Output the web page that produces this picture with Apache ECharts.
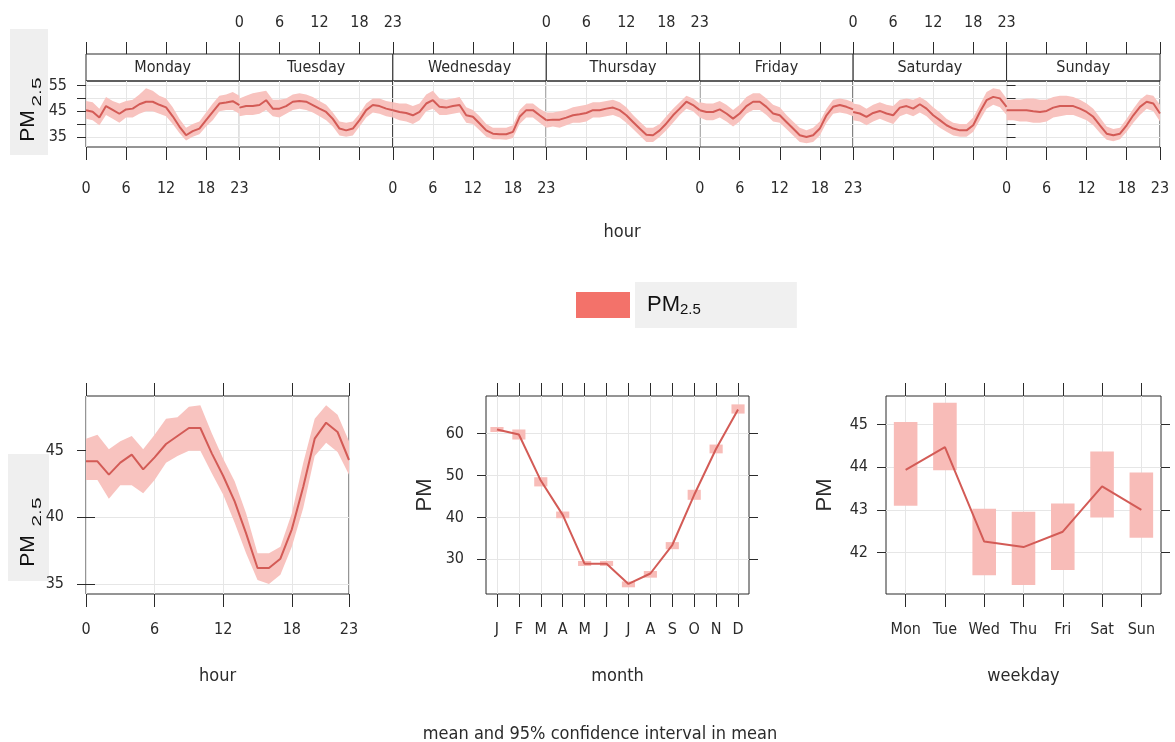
<!DOCTYPE html>
<html lang="en">
<head>
<meta charset="UTF-8">
<title>PM2.5 time variation</title>
<script src="https://cdn.jsdelivr.net/npm/echarts@6/dist/echarts.min.js"></script>
<style>
  html, body { margin: 0; padding: 0; background: #fff; }
  #chart { width: 1175px; height: 742px; }
</style>
</head>
<body>
<div id="chart"></div>
<script>
// ---- data ----
var hours = [0, 1, 2, 3, 4, 5, 6, 7, 8, 9, 10, 11, 12, 13, 14, 15, 16, 17, 18, 19, 20, 21, 22, 23];
var hourTicks = [0, 6, 12, 18, 23];
var days = ['Monday', 'Tuesday', 'Wednesday', 'Thursday', 'Friday', 'Saturday', 'Sunday'];

var dayMean = [
  [45.4, 44.8, 42.5, 47, 45.5, 44, 45.7, 46, 47.7, 48.7, 48.7, 47.5, 46.5, 43, 39, 35.6, 37.2, 38.2, 41.5, 44.7, 48, 48.4, 48.9, 47.4],
  [46.4, 47, 47, 47.4, 49.3, 46, 46, 47, 48.7, 49, 48.7, 47.4, 46, 44.7, 42, 38.2, 37.5, 38.2, 41.5, 45.4, 47.4, 47, 46, 45.4],
  [45.4, 44.7, 44.3, 43.4, 44.7, 48, 49.3, 46.7, 46.4, 47, 47.4, 43.4, 42.8, 40.2, 37.5, 36.2, 36, 36, 36.9, 42.8, 45.4, 45.4, 43.4, 41.5],
  [41.5, 41.7, 41.7, 42.5, 43.4, 43.8, 44.3, 45.4, 45.4, 46, 46.4, 45.4, 43.4, 40.8, 38.2, 35.8, 35.6, 37.5, 40.2, 43.4, 46, 48.7, 47.4, 45.4],
  [45.4, 44.7, 44.7, 45.7, 44.1, 42.1, 44.1, 47, 48.7, 48.7, 46.7, 44.1, 43.4, 40.8, 38.2, 35.6, 34.9, 35.6, 38.2, 43.4, 46.7, 47.4, 46.7, 45.7],
  [44.7, 44.1, 42.8, 44.3, 45.1, 44.1, 43.4, 46.4, 47, 46, 47.7, 46, 43.4, 41.5, 39.5, 38.2, 37.5, 37.5, 39.5, 44.7, 49.3, 50.6, 50, 46.7],
  [45.4, 45.4, 45.4, 45.4, 45, 44.7, 45.1, 46.4, 47, 47, 47, 46, 44.7, 42.8, 39.5, 36.2, 35.6, 36.2, 39.5, 43.4, 46.7, 48.7, 48, 44.1]
];
var dayHigh = [
  [49, 48.5, 46, 50.5, 49, 48, 49, 49.5, 51.5, 54, 53, 51, 50, 46.5, 42, 38.5, 40, 41, 44.5, 48, 51, 51.5, 52.5, 51],
  [50, 51, 52, 52.5, 53, 49.5, 49.5, 50, 51.5, 52, 51.5, 50.5, 49, 47.5, 44.5, 41, 40.5, 41, 44, 48, 50, 50, 49, 48.5],
  [48.5, 48, 48, 47, 48, 51.5, 53, 50, 49.5, 50, 50.5, 46.5, 45.5, 43, 40, 38.5, 38.5, 38.5, 39.5, 45.5, 48, 48, 46, 44.5],
  [44.5, 44.5, 45, 45.5, 46.5, 47, 47.5, 48.5, 48.5, 49, 49.5, 48.5, 46.5, 43.5, 41, 38.5, 38.5, 40, 43, 46, 48.5, 51, 50, 48],
  [48.5, 48, 48, 49, 47.5, 45.5, 47.5, 50.5, 52, 52, 50, 47.5, 46.5, 43.5, 41, 38.5, 37.5, 38.5, 41, 46, 49.5, 50, 49.5, 48.5],
  [48, 47.5, 46, 47.5, 48.5, 47.5, 47, 49.5, 50, 49.5, 50.5, 49, 46.5, 44.5, 42, 40.5, 40, 40, 42.5, 47.5, 52.5, 54, 53.5, 50],
  [49.5, 49.5, 49.5, 50, 50, 49.5, 49.5, 50.5, 51, 51, 50.5, 49.5, 48, 46, 42.5, 39, 38, 38.5, 42, 46, 49.5, 51.5, 51, 47.5]
];
var dayLow = [
  [42, 41.5, 39.5, 43.5, 42, 40.5, 42.5, 42.5, 44, 45, 45, 44, 43, 40, 36.5, 33.5, 35, 36, 39, 41.5, 45, 45.5, 45.5, 44],
  [43, 43.5, 43.5, 44, 45.5, 43, 42.5, 44, 45.5, 46, 45.5, 44.5, 43, 41.5, 39, 35.5, 35, 35.5, 39, 42.5, 44.5, 44, 43, 42.5],
  [42.5, 41.5, 41, 40, 41.5, 45, 46, 43.5, 43.5, 44, 44.5, 40.5, 40, 37.5, 35, 34, 34, 33.8, 34.5, 40, 42.5, 42.5, 40.5, 38.5],
  [38.5, 39, 38.5, 39.5, 40.5, 40.5, 41, 42.5, 42.5, 43, 43.5, 42.5, 40.5, 38, 35.5, 33, 33, 35, 37.5, 40.5, 43.5, 46, 45, 42.5],
  [42.5, 41.5, 41.5, 42.5, 41, 39, 41, 44, 45.5, 45.5, 43.5, 41, 40.5, 38, 35.5, 33, 32.5, 33, 35.5, 40.5, 44, 44.5, 44, 43],
  [41.5, 41, 39.5, 41, 42, 41, 40, 43, 44, 43, 44.5, 43, 40.5, 38.5, 37, 35.5, 35, 35, 37, 41.5, 46, 47.5, 46.5, 43.5],
  [41.5, 41.5, 41, 41, 40.5, 40.5, 41, 42.5, 43, 43.5, 43.5, 42.5, 41.5, 39.5, 36.5, 33.8, 33.2, 34, 37, 40.5, 43.5, 46, 45, 41]
];
var dayYTicks = [35, 40, 45, 50, 55];
var dayYLabels = [35, 45, 55];

var hourMean = [44.2, 44.2, 43.2, 44.1, 44.7, 43.6, 44.5, 45.5, 46.1, 46.7, 46.7, 44.8, 43.1, 41.2, 38.8, 36.2, 36.2, 36.9, 39.1, 42.3, 45.9, 47.1, 46.4, 44.3];
var hourHigh = [45.9, 46.2, 45.1, 45.7, 46.1, 45.1, 46.2, 47.4, 47.5, 48.3, 48.4, 46.3, 44.4, 42.7, 40.3, 37.3, 37.3, 37.8, 40.3, 44.1, 47.4, 48.4, 47.7, 45.7];
var hourLow = [42.8, 42.8, 41.4, 42.4, 42.4, 41.8, 42.8, 44.1, 44.6, 45.0, 45.0, 43.3, 41.7, 39.6, 37.3, 35.3, 35.0, 35.7, 37.8, 40.7, 44.6, 45.6, 44.9, 43.2];
var hourYTicks = [35, 40, 45];

var months = ['J', 'F', 'M', 'A', 'M', 'J', 'J', 'A', 'S', 'O', 'N', 'D'];
var monthMean = [61.0, 59.8, 48.8, 40.6, 28.9, 28.9, 24.1, 26.6, 33.4, 45.4, 56.4, 65.8];
var monthLow = [60.4, 58.6, 47.4, 39.8, 28.4, 28.4, 23.3, 25.6, 32.4, 44.2, 55.3, 64.8];
var monthHigh = [61.6, 61.0, 49.6, 41.4, 29.6, 29.6, 24.7, 27.2, 34.1, 46.6, 57.4, 67.0];
var monthYTicks = [30, 40, 50, 60];

var weekdays = ['Mon', 'Tue', 'Wed', 'Thu', 'Fri', 'Sat', 'Sun'];
var weekMean = [43.94, 44.47, 42.26, 42.13, 42.49, 43.55, 43.0];
var weekLow = [43.1, 43.93, 41.47, 41.24, 41.59, 42.82, 42.35];
var weekHigh = [45.06, 45.51, 43.03, 42.96, 43.15, 44.37, 43.88];
var weekYTicks = [42, 43, 44, 45];

// ---- styles ----
var narrow = "'DejaVu Sans Condensed','Liberation Sans Narrow',sans-serif";
var sans = "'Liberation Sans',Arial,sans-serif";
var ink = '#2b2b2b';
var lineColor = '#d35b56';
var bandColor = '#f8c3bf';
var boxColor = '#f8bcb8';
var gridLine = '#e6e6e6';
var tickFont = 16;

var grids = [], xAxes = [], yAxes = [], series = [], titles = [];

function tickStyle(len, custom) {
  return { show: true, inside: false, length: len, customValues: custom, lineStyle: { color: ink, width: 1 } };
}
function labelStyle(show, margin, custom) {
  return { show: show, margin: margin, customValues: custom, color: ink, fontFamily: narrow, fontSize: tickFont };
}
function pairs(xs, ys) {
  return xs.map(function (x, i) { return [x, ys[i]]; });
}
// confidence band drawn as one polygon through the axis scales
function bandRender(xs, lo, hi) {
  return function (params, api) {
    if (params.dataIndex !== 0) return null;
    var pts = [];
    for (var k = 0; k < xs.length; k++) pts.push(api.coord([xs[k], hi[k]]));
    for (var j = xs.length - 1; j >= 0; j--) pts.push(api.coord([xs[j], lo[j]]));
    return { type: 'polygon', shape: { points: pts }, style: { fill: bandColor } };
  };
}
function addBand(xi, yi, xs, lo, hi, mean) {
  series.push({
    type: 'custom', xAxisIndex: xi, yAxisIndex: yi, renderItem: bandRender(xs, lo, hi),
    encode: { x: 0, y: [1, 2] }, silent: true,
    data: xs.map(function (x, i) { return [x, lo[i], hi[i]]; })
  });
  series.push({
    type: 'line', xAxisIndex: xi, yAxisIndex: yi, data: pairs(xs, mean),
    symbol: 'none', lineStyle: { color: lineColor, width: 2 }, silent: true
  });
}

// ---- top panel: hour by day of week ----
var topL = 86, topR = 1160, stripTop = 54, dataTop = 81, dataH = 66;
var panelW = (topR - topL) / days.length;

days.forEach(function (d, i) {
  var x0 = topL + i * panelW;
  // strip
  grids.push({ left: x0, top: stripTop, width: panelW, height: dataTop - stripTop, show: true,
    borderColor: ink, borderWidth: 1, backgroundColor: '#fff', outerBoundsMode: 'none' });
  var sg = grids.length - 1;
  xAxes.push({ gridIndex: sg, type: 'value', show: false });
  yAxes.push({ gridIndex: sg, type: 'value', show: false });
  titles.push({ text: d, left: x0 + panelW / 2, top: 60, textAlign: 'center', padding: 0,
    textStyle: { fontFamily: narrow, fontSize: 16, fontWeight: 'normal', color: ink } });

  // data area
  grids.push({ left: x0, top: dataTop, width: panelW, height: dataH, show: true,
    borderColor: ink, borderWidth: 1, outerBoundsMode: 'none' });
  var g = grids.length - 1;
  xAxes.push({ gridIndex: g, type: 'value', min: 0, max: 23, position: 'bottom',
    axisLine: { show: false }, axisTick: tickStyle(13, hourTicks),
    axisLabel: labelStyle(i % 2 === 0, 34, hourTicks),
    splitLine: { show: true, lineStyle: { color: gridLine } } });
  var xb = xAxes.length - 1;
  xAxes.push({ gridIndex: g, type: 'value', min: 0, max: 23, position: 'top', offset: dataTop - stripTop,
    axisLine: { show: false }, axisTick: tickStyle(12, hourTicks),
    axisLabel: labelStyle(i % 2 === 1, 23, hourTicks), splitLine: { show: false } });
  yAxes.push({ gridIndex: g, type: 'value', min: 31, max: 56.8, position: 'left',
    axisLine: { show: false }, axisTick: i === 0 ? tickStyle(9, dayYTicks) : { show: false, customValues: dayYTicks },
    axisLabel: labelStyle(i === 0, 19, dayYLabels),
    splitLine: { show: true, lineStyle: { color: gridLine } } });
  var yl = yAxes.length - 1;
  if (i === days.length - 1) {
    yAxes.push({ gridIndex: g, type: 'value', min: 31, max: 56.8, position: 'right',
      axisLine: { show: false }, axisTick: tickStyle(9, dayYTicks),
      axisLabel: { show: false }, splitLine: { show: false } });
  }
  addBand(xb, yl, hours, dayLow[i], dayHigh[i], dayMean[i]);
});

titles.push({ text: 'hour', left: 622, top: 223, textAlign: 'center', padding: 0,
  textStyle: { fontFamily: narrow, fontSize: 18, fontWeight: 'normal', color: ink } });

// ---- bottom panels ----
var botTop = 396, botH = 198;
function addFrame(left, width) {
  grids.push({ left: left, top: botTop, width: width, height: botH, show: true,
    borderColor: ink, borderWidth: 1, outerBoundsMode: 'none' });
  return grids.length - 1;
}
var nameStyle = { fontFamily: narrow, fontSize: 18, color: ink };
var pmName = { fontFamily: sans, fontSize: 22, color: ink };

// hour
var gH = addFrame(86, 263);
xAxes.push({ gridIndex: gH, type: 'value', min: 0, max: 23, axisLine: { show: false },
  axisTick: tickStyle(13, hourTicks), axisLabel: labelStyle(true, 28, hourTicks),
  splitLine: { show: true, lineStyle: { color: gridLine } },
  name: 'hour', nameLocation: 'middle', nameGap: 73, nameTextStyle: nameStyle });
var xH = xAxes.length - 1;
xAxes.push({ gridIndex: gH, type: 'value', min: 0, max: 23, position: 'top', axisLine: { show: false },
  axisTick: tickStyle(13, hourTicks), axisLabel: { show: false }, splitLine: { show: false } });
yAxes.push({ gridIndex: gH, type: 'value', min: 34.25, max: 49.1, axisLine: { show: false },
  axisTick: tickStyle(9, hourYTicks), axisLabel: labelStyle(true, 22, hourYTicks),
  splitLine: { show: true, lineStyle: { color: gridLine } } });
var yH = yAxes.length - 1;
yAxes.push({ gridIndex: gH, type: 'value', min: 34.25, max: 49.1, position: 'right', axisLine: { show: false },
  axisTick: tickStyle(9, hourYTicks), axisLabel: { show: false }, splitLine: { show: false } });
addBand(xH, yH, hours, hourLow, hourHigh, hourMean);

function boxRender(params, api) {
  var c = api.value(0);
  var top = api.coord([c, api.value(2)]);
  var bot = api.coord([c, api.value(1)]);
  var w = api.size([1, 0])[0] * 0.6;
  return { type: 'rect', shape: { x: top[0] - w / 2, y: top[1], width: w, height: bot[1] - top[1] },
    style: { fill: boxColor } };
}
function addCategoryPanel(left, width, cats, mean, lo, hi, yMin, yMax, yTicks, xName, yMargin) {
  var g = addFrame(left, width);
  xAxes.push({ gridIndex: g, type: 'category', data: cats, boundaryGap: true, axisLine: { show: false },
    axisTick: { show: true, inside: false, length: 13, alignWithLabel: true, lineStyle: { color: ink } },
    axisLabel: { show: true, margin: 28, interval: 0, color: ink, fontFamily: narrow, fontSize: tickFont },
    splitLine: { show: true, alignWithLabel: true, interval: 0, lineStyle: { color: gridLine } },
    name: xName, nameLocation: 'middle', nameGap: 73, nameTextStyle: nameStyle });
  var xi = xAxes.length - 1;
  xAxes.push({ gridIndex: g, type: 'category', data: cats, boundaryGap: true, position: 'top', axisLine: { show: false },
    axisTick: { show: true, inside: false, length: 13, alignWithLabel: true, interval: 0, lineStyle: { color: ink } },
    axisLabel: { show: false }, splitLine: { show: false } });
  yAxes.push({ gridIndex: g, type: 'value', min: yMin, max: yMax, axisLine: { show: false },
    axisTick: tickStyle(9, yTicks), axisLabel: labelStyle(true, yMargin, yTicks),
    splitLine: { show: true, lineStyle: { color: gridLine } },
    name: 'PM', nameLocation: 'middle', nameGap: 50, nameTextStyle: pmName });
  var yi = yAxes.length - 1;
  yAxes.push({ gridIndex: g, type: 'value', min: yMin, max: yMax, position: 'right', axisLine: { show: false },
    axisTick: tickStyle(9, yTicks), axisLabel: { show: false }, splitLine: { show: false } });
  series.push({
    name: 'PM2.5', type: 'custom', xAxisIndex: xi, yAxisIndex: yi, renderItem: boxRender,
    itemStyle: { color: boxColor }, encode: { x: 0, y: [1, 2] }, silent: true,
    data: cats.map(function (c, i) { return [i, lo[i], hi[i]]; })
  });
  series.push({
    type: 'line', xAxisIndex: xi, yAxisIndex: yi, data: mean, symbol: 'none',
    lineStyle: { color: lineColor, width: 2 }, silent: true
  });
}
addCategoryPanel(486, 263, months, monthMean, monthLow, monthHigh, 21.7, 69, monthYTicks, 'month', 22);
addCategoryPanel(886, 275, weekdays, weekMean, weekLow, weekHigh, 41.03, 45.67, weekYTicks, 'weekday', 18);

titles.push({ text: 'mean and 95% confidence interval in mean', left: 600, top: 725, textAlign: 'center', padding: 0,
  textStyle: { fontFamily: narrow, fontSize: 18, fontWeight: 'normal', color: ink } });

var pmRich = {
  a: { fontFamily: sans, fontSize: 22, lineHeight: 24, color: '#111', verticalAlign: 'middle' },
  b: { fontFamily: sans, fontSize: 15, lineHeight: 10, color: '#111', verticalAlign: 'bottom' }
};
var pmText = { fontFamily: sans, fontSize: 21, fill: '#111', align: 'center', verticalAlign: 'middle' };
var subText = { fontFamily: sans, fontSize: 13, fill: '#111', align: 'center', verticalAlign: 'middle' };

function yLabelBox(bx, by, bw, bh, cx, pmY, subY) {
  return [
    { type: 'rect', left: bx, top: by, shape: { width: bw, height: bh }, style: { fill: '#efefef' }, z: -1 },
    { type: 'text', x: cx, y: pmY, rotation: Math.PI / 2, style: Object.assign({ text: 'PM' }, pmText), z: 11 },
    { type: 'text', x: cx + 9, y: subY, rotation: Math.PI / 2, scaleX: 1.6,
      style: Object.assign({ text: '2.5' }, subText), z: 11 }
  ];
}

var option = {
  animation: false,
  backgroundColor: '#fff',
  title: titles,
  grid: grids,
  xAxis: xAxes,
  yAxis: yAxes,
  series: series,
  legend: {
    data: [{ name: 'PM2.5', icon: 'rect', itemStyle: { color: '#f3726a', opacity: 1, borderWidth: 0 } }],
    left: 571, top: 277, itemWidth: 54, itemHeight: 26, selectedMode: false,
    formatter: function () { return '{a|PM}{b|2.5}'; },
    textStyle: { backgroundColor: '#f0f0f0', padding: [11, 96, 11, 12], rich: pmRich }
  },
  graphic: yLabelBox(10, 29, 38, 126, 28, 126, 92).concat(yLabelBox(8, 454, 41, 127, 28, 551, 512))
};

var myChart = echarts.init(document.getElementById('chart'));
myChart.setOption(option);
</script>
</body>
</html>
